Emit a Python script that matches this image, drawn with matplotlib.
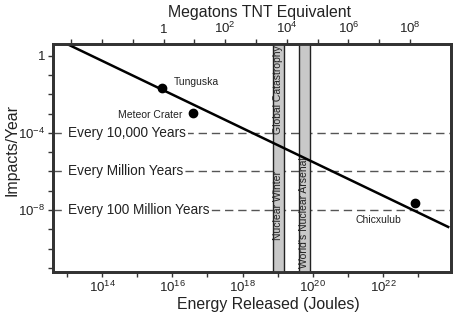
import numpy as np
import matplotlib
matplotlib.use("Agg")
import matplotlib.pyplot as plt
from matplotlib import ticker

plt.rcParams['font.family'] = ['Liberation Sans', 'DejaVu Sans']
plt.rcParams['mathtext.fontset'] = 'custom'
plt.rcParams['mathtext.rm'] = 'Liberation Sans'
plt.rcParams['mathtext.it'] = 'Liberation Sans:italic'

# trend line (energy in J, impacts per year)
line_energy = [1e13, 10**23.86]
line_rate = [10**0.62, 10**-8.88]

# named impacts
impact_names = ['Tunguska', 'Meteor Crater', 'Chicxulub']
impact_energy = [10**15.71, 10**16.6, 10**22.91]
impact_rate = [10**-1.66, 10**-2.96, 10**-7.64]

# recurrence levels
levels = [1e-4, 1e-6, 1e-8]
level_labels = ['Every 10,000 Years', 'Every Million Years', 'Every 100 Million Years']

# shaded energy bands
bands = [(10**18.86, 10**19.17), (10**19.6, 10**19.91)]

ink = '#222222'
spine_col = '#333333'

fig = plt.figure(figsize=(4.53, 3.14), dpi=100)
ax = fig.add_axes([53/453, 42/314, 398/453, 228/314])
ax.set_xscale('log')
ax.set_yscale('log')
ax.set_xlim(10**12.6, 10**23.94)
ax.set_ylim(10**-11.22, 10**0.62)

# dashed recurrence lines with labels
for lv, lab in zip(levels, level_labels):
    ax.axhline(lv, color='#555555', lw=1.0, dashes=(6, 3.5), zorder=1)
    ax.text(10**13.03, lv, lab, fontsize=9.8, color=ink, va='center', ha='left',
            bbox=dict(facecolor='white', edgecolor='none', pad=1.2), zorder=2)

# bands
for lo, hi in bands:
    ax.axvspan(lo, hi, facecolor='#c8c8c8', edgecolor='#222222', lw=1.0, zorder=3)

c1 = np.sqrt(bands[0][0] * bands[0][1])
c2 = np.sqrt(bands[1][0] * bands[1][1])
ax.text(c1, 10**0.57, 'Global Catastrophy', rotation=90, fontsize=7.5, color=ink,
        ha='center', va='top', zorder=4)
ax.text(c1, 10**-9.56, 'Nuclear Winter', rotation=90, fontsize=7.5, color=ink,
        ha='center', va='bottom', zorder=4)
ax.text(c2, 10**-11.0, "World's Nuclear Arsenal", rotation=90, fontsize=7.5, color=ink,
        ha='center', va='bottom', zorder=4)

# trend line and impacts
ax.plot(line_energy, line_rate, color='black', lw=1.8, zorder=5, clip_on=True)
ax.plot(impact_energy, impact_rate, 'o', color='black', ms=6, zorder=6)

ax.text(10**16.03, 10**-1.35, impact_names[0], fontsize=7.5, color=ink, ha='left', va='center')
ax.text(10**16.29, 10**-3.06, impact_names[1], fontsize=7.5, color=ink, ha='right', va='center')
ax.text(10**21.86, 10**-8.52, impact_names[2], fontsize=7.5, color=ink, ha='center', va='center')

# bottom axis ticks
ax.xaxis.set_major_locator(ticker.FixedLocator([1e14, 1e16, 1e18, 1e20, 1e22]))
ax.xaxis.set_minor_locator(ticker.FixedLocator([10.0**k for k in range(13, 24, 2)]))
ax.xaxis.set_major_formatter(ticker.FixedFormatter(['$10^{14}$', '$10^{16}$', '$10^{18}$',
                                                    '$10^{20}$', '$10^{22}$']))
ax.xaxis.set_minor_formatter(ticker.NullFormatter())

# left axis ticks
ax.yaxis.set_major_locator(ticker.FixedLocator([1, 1e-4, 1e-8]))
ax.yaxis.set_minor_locator(ticker.FixedLocator([10.0**k for k in range(-11, 1)
                                                if k not in (0, -4, -8)]))
ax.yaxis.set_major_formatter(ticker.FixedFormatter(['1', '$10^{-4}$', '$10^{-8}$']))
ax.yaxis.set_minor_formatter(ticker.NullFormatter())

ax.tick_params(which='both', direction='out', length=3.5, width=1.0, color=spine_col,
               labelsize=9.5, labelcolor=ink, pad=2)

# top axis in megatons
ax2 = ax.twiny()
ax2.set_xscale('log')
ax2.set_xlim(10**-3.59, 10**9.33)
ax2.xaxis.set_major_locator(ticker.FixedLocator([1, 1e2, 1e4, 1e6, 1e8]))
ax2.xaxis.set_minor_locator(ticker.FixedLocator([10.0**k for k in range(-3, 9, 2)] + [1e-2]))
ax2.xaxis.set_major_formatter(ticker.FixedFormatter(['1', '$10^{2}$', '$10^{4}$', '$10^{6}$', '$10^{8}$']))
ax2.xaxis.set_minor_formatter(ticker.NullFormatter())
ax2.tick_params(which='both', direction='out', length=3.5, width=1.0, color=spine_col,
                labelsize=9.5, labelcolor=ink, pad=2)

for a in (ax, ax2):
    for s in a.spines.values():
        s.set_linewidth(2.0)
        s.set_color(spine_col)

ax2.set_xlabel('Megatons TNT Equivalent', fontsize=11.4, color=ink)
ax2.xaxis.set_label_coords(0.52, 1.118)
ax.set_xlabel('Energy Released (Joules)', fontsize=11.4, color=ink)
ax.xaxis.set_label_coords(0.54, -0.11)
ax.set_ylabel('Impacts/Year', fontsize=11.4, color=ink)
ax.yaxis.set_label_coords(-0.085, 0.535)

fig.savefig('out.png', dpi=100)
